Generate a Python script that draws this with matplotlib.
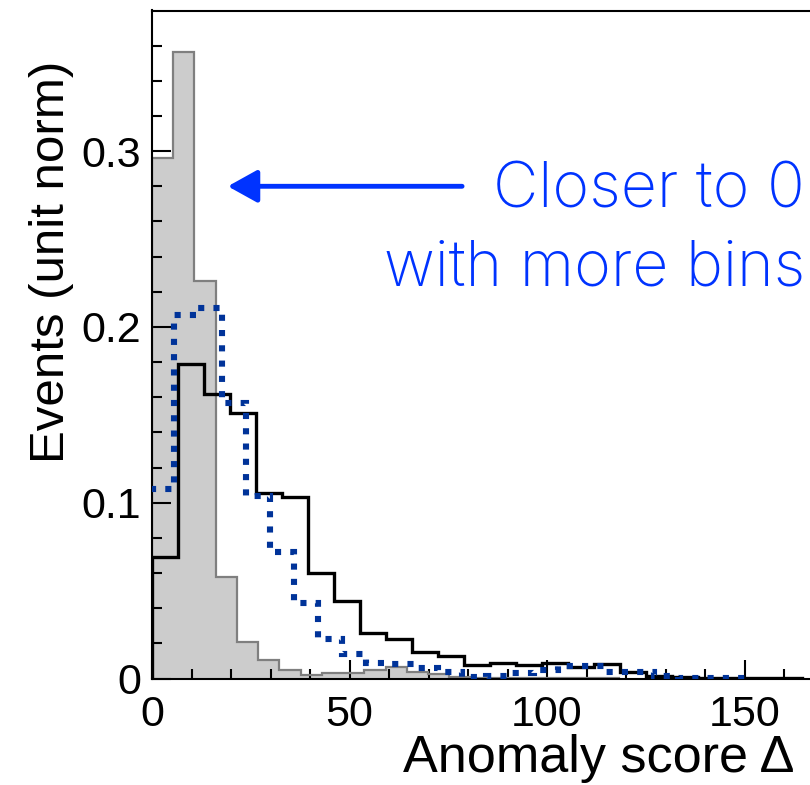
import matplotlib
matplotlib.use("Agg")
import matplotlib.pyplot as plt
import numpy as np

# bin layout of the three histograms (start, width)
gray_start, gray_width = 0.0, 5.375
black_start, black_width = 0.0, 6.58
blue_start, blue_width = -0.6, 6.08

# unit-normalised bin contents
gray_vals = [0.296, 0.3566, 0.226, 0.058, 0.0209, 0.0105, 0.0048, 0.0022,
             0.0030, 0.0030, 0.0048, 0.0066, 0.0035, 0.0025, 0.0008, 0.0005,
             0.0004, 0.0003, 0.0002, 0.0002, 0.0001, 0.0001]
black_vals = [0.069, 0.179, 0.162, 0.151, 0.1055, 0.103, 0.060, 0.044,
              0.026, 0.0226, 0.0149, 0.0129, 0.0077, 0.0090, 0.0077, 0.0090,
              0.0067, 0.0085, 0.0037, 0.0015, 0.0006, 0.0004, 0.0003,
              0.0002, 0.0001]
blue_vals = [0.108, 0.207, 0.211, 0.157, 0.1036, 0.0722, 0.0427, 0.0223,
             0.0140, 0.0087, 0.0085, 0.0058, 0.0039, 0.0009, 0.0015, 0.0034,
             0.0050, 0.0072, 0.0072, 0.0039, 0.0039, 0.0014, 0.0002, 0.0002,
             0.0002]

x_ticks = [0, 50, 100, 150]
y_ticks = [0, 0.1, 0.2, 0.3]
y_ticklabels = ["0", "0.1", "0.2", "0.3"]

plt.rcParams["font.family"] = ["Liberation Sans", "DejaVu Sans"]

fig = plt.figure(figsize=(8.1, 7.85), dpi=100)
ax = fig.add_axes([152 / 810, 106.5 / 785, 671.5 / 810, 668 / 785])


def edges(start, width, n):
    return start + width * np.arange(n + 1)


ax.stairs(gray_vals, edges(gray_start, gray_width, len(gray_vals)), fill=True,
          facecolor="#cccccc", edgecolor="none", zorder=1)
ax.stairs(gray_vals, edges(gray_start, gray_width, len(gray_vals)),
          color="#7f7f7f", lw=1.6, zorder=2)
ax.stairs(black_vals, edges(black_start, black_width, len(black_vals)),
          color="black", lw=2.4, zorder=3)
# no end drops for the dotted one, its first bin starts left of zero
ax.stairs(blue_vals, edges(blue_start, blue_width, len(blue_vals)),
          baseline=None, color="#003399", lw=4.4,
          linestyle=(0, (1, 1.5)), zorder=4)

ax.set_xlim(0, 170)
ax.set_ylim(0, 0.38)
ax.set_xticks(x_ticks)
ax.set_xticks(np.arange(0, 171, 10), minor=True)
ax.set_yticks(y_ticks)
ax.set_yticklabels(y_ticklabels)
ax.set_yticks(np.arange(0, 0.38, 0.02), minor=True)
ax.tick_params(which="both", direction="in", width=1.5, labelsize=31)
ax.tick_params(which="major", length=14)
ax.tick_params(which="minor", length=7)
ax.tick_params(axis="x", pad=12)
ax.tick_params(axis="y", pad=8)
for s in ax.spines.values():
    s.set_linewidth(1.5)

ax.set_xlabel("Anomaly score Δ", fontsize=37.5, ha="right", va="center")
ax.xaxis.set_label_coords(0.9575, -0.12)
ax.set_ylabel("Events (unit norm)", fontsize=35.5, va="center")
ax.yaxis.set_label_coords(-0.149, 0.6235)

blue = "#0033ff"
note_font = dict(color=blue, fontsize=45, family=["Inter", "DejaVu Sans"],
                 fontweight="light", ha="right", va="center")
ax.annotate("", xy=(19.2, 0.280), xytext=(78.5, 0.280),
            arrowprops=dict(arrowstyle="-|>,head_length=0.9,head_width=0.5",
                            mutation_scale=20, lw=3.5, color=blue,
                            shrinkA=0, shrinkB=0))
ax.text(165.3, 0.2776, "Closer to 0", **note_font)
ax.text(165.3, 0.233, "with more bins", **note_font)

fig.savefig("out.png", dpi=100)
